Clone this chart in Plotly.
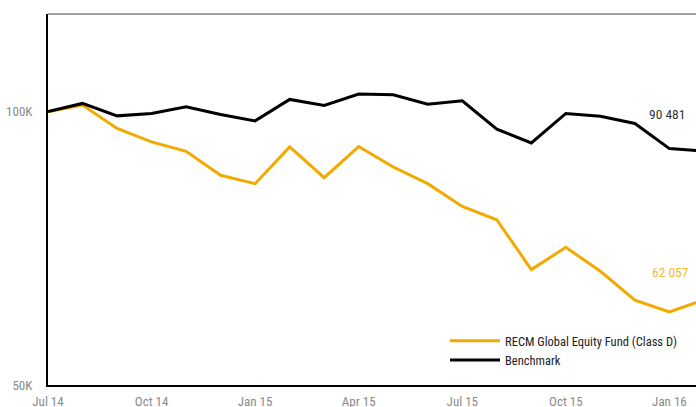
import plotly.graph_objects as go

months = ["Jul 14", "Aug 14", "Sep 14", "Oct 14", "Nov 14", "Dec 14",
          "Jan 15", "Feb 15", "Mar 15", "Apr 15", "May 15", "Jun 15",
          "Jul 15", "Aug 15", "Sep 15", "Oct 15", "Nov 15", "Dec 15",
          "Jan 16", "Feb 16"]

fund = [100000, 101670, 95820, 92610, 90440, 85090,
        83310, 91440, 84590, 91530, 86900, 83310,
        78640, 76030, 67000, 70890, 66710, 62000,
        60190, 62057]

benchmark = [100000, 102110, 98940, 99540, 101230, 99290,
             97690, 103150, 101590, 104550, 104370, 101930,
             102790, 95650, 92370, 99540, 98860, 97040,
             91060, 90481]

tick_labels = ["Jul 14", "Oct 14", "Jan 15", "Apr 15", "Jul 15", "Oct 15", "Jan 16"]
y_tick_vals = [50000, 100000]
y_tick_text = ["50K", "100K"]

FONT = "Roboto Condensed, Liberation Sans Narrow, DejaVu Sans Condensed, sans-serif"
ORANGE = "#F2A900"

x_idx = list(range(len(months)))
tick_idx = [months.index(t) for t in tick_labels]

fig = go.Figure()
fig.add_trace(go.Scatter(x=x_idx, y=fund, mode="lines",
                         name="RECM Global Equity Fund (Class D)",
                         line=dict(color=ORANGE, width=3)))
fig.add_trace(go.Scatter(x=x_idx, y=benchmark, mode="lines",
                         name="Benchmark",
                         line=dict(color="#000000", width=3)))

def fmt(v):
    return f"{v:,}".replace(",", " ")

fig.add_annotation(x=0.956, y=0.7305, xref="paper", yref="paper",
                   xanchor="center", yanchor="middle",
                   text=fmt(benchmark[-1]), showarrow=False,
                   font=dict(family=FONT, size=13.5, color="#333333"))
fig.add_annotation(x=0.960, y=0.3054, xref="paper", yref="paper",
                   xanchor="center", yanchor="middle",
                   text=fmt(fund[-1]), showarrow=False,
                   font=dict(family=FONT, size=13.5, color="#F5B92E"))

# top border line
fig.add_shape(type="line", xref="paper", yref="paper", x0=0, x1=1, y0=1, y1=1,
              line=dict(color="#a0a0a0", width=2))

fig.update_layout(
    width=696, height=407,
    margin=dict(l=48, r=0, t=14, b=22, autoexpand=False),
    paper_bgcolor="white", plot_bgcolor="white",
    font=dict(family=FONT, size=13, color="#8a8a8a"),
    showlegend=True,
    legend=dict(x=0.6127, y=0.159, xanchor="left", yanchor="top",
                bgcolor="rgba(0,0,0,0)",
                font=dict(family=FONT, size=12.5, color="#222222"),
                tracegroupgap=0, itemwidth=50),
    xaxis=dict(range=[0, 18.77], tickvals=tick_idx, ticktext=tick_labels,
               showgrid=False, zeroline=False, showline=True,
               linecolor="#000000", linewidth=2, ticks="", ticklen=0,
               ticklabelstandoff=3, automargin=False,
               tickfont=dict(family=FONT, size=13, color="#8a8a8a")),
    yaxis=dict(type="log", range=[4.69897, 5.10755],
               tickvals=y_tick_vals, ticktext=y_tick_text,
               showgrid=False, zeroline=False, showline=True,
               linecolor="#000000", linewidth=2, ticks="",
               ticklabelstandoff=11, automargin=False,
               tickfont=dict(family=FONT, size=13, color="#8a8a8a")),
)

fig.write_html(
    "out.html",
    config={"displayModeBar": False},
    post_script="document.body.style.margin='0';"
                "document.documentElement.style.overflow='hidden';"
                "document.body.style.overflow='hidden';",
)
